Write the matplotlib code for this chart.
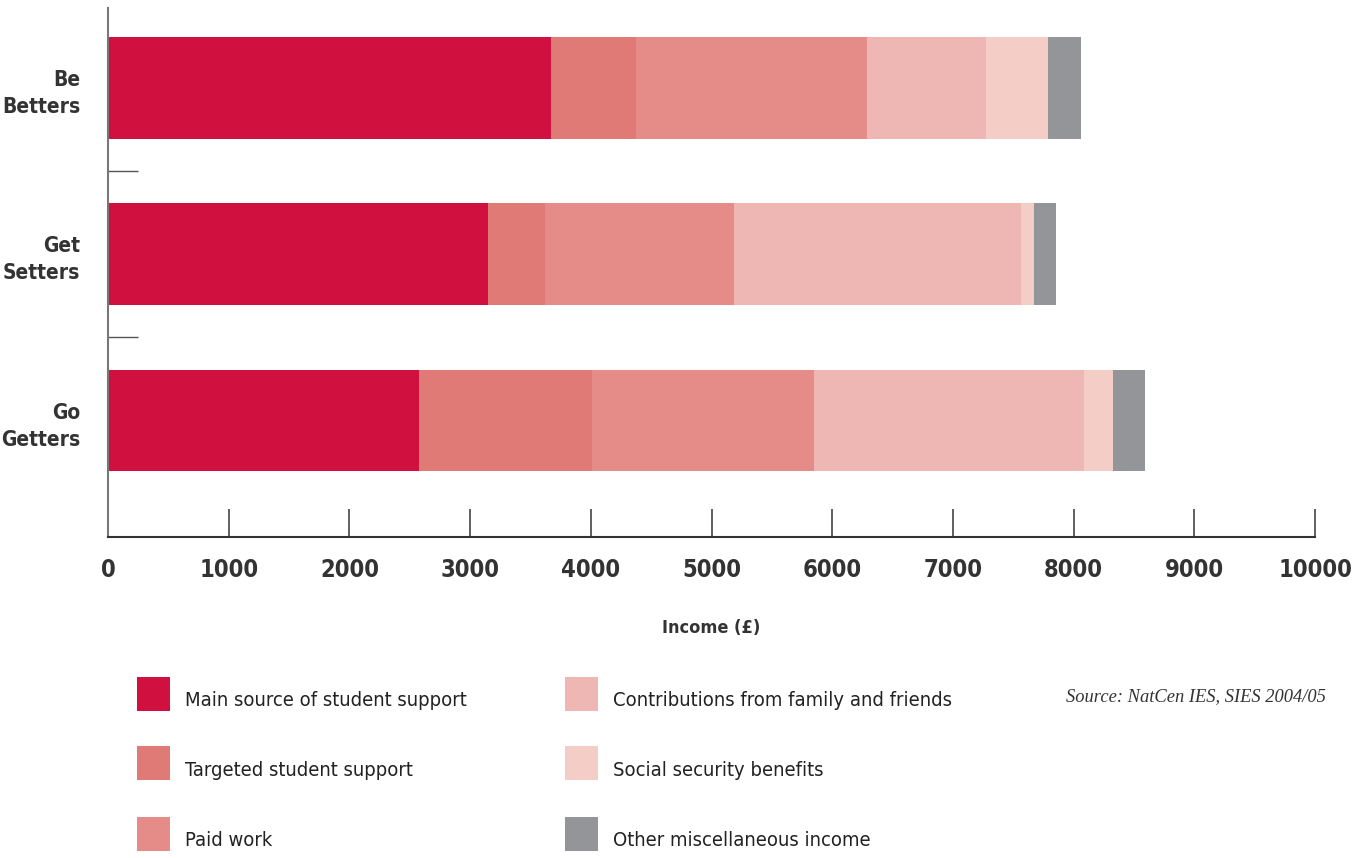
import matplotlib
matplotlib.use("Agg")
import matplotlib.pyplot as plt
from matplotlib import font_manager
from matplotlib.patches import Rectangle
import numpy as np

# data (income in GBP), bottom to top
groups = ["Go\nGetters", "Get\nSetters", "Be\nBetters"]
sources = ["Main source of student support", "Targeted student support", "Paid work",
           "Contributions from family and friends", "Social security benefits",
           "Other miscellaneous income"]
main_support = [2575, 3145, 3670]
targeted = [1435, 475, 705]
paid_work = [1840, 1570, 1915]
family = [2235, 2370, 985]
social = [240, 115, 515]
other = [265, 175, 270]
colors = ["#D0113F", "#E07A76", "#E58C88", "#EEB7B3", "#F4CDC6", "#949599"]
xticks = [0, 1000, 2000, 3000, 4000, 5000, 6000, 7000, 8000, 9000, 10000]

# look for a narrow face, the original uses a condensed sans
narrow = None
for f in font_manager.fontManager.ttflist:
    n = (f.name + ' ' + f.fname).lower()
    if 'condensed' in n or 'narrow' in n:
        if f.name.startswith('DejaVu Sans') or f.name.startswith('Liberation Sans'):
            narrow = f.name
            break
if narrow:
    plt.rcParams['font.family'] = [narrow, 'DejaVu Sans']
    plt.rcParams['font.stretch'] = 'condensed'
    scale = 1.0
else:
    plt.rcParams['font.family'] = ['Roboto', 'DejaVu Sans']
    scale = 0.9
txt = '#333333'

fig = plt.figure(figsize=(13.71, 8.58), dpi=100)
ax = fig.add_axes([0.0788, 0.3741, 0.8804, 0.6166])

series = [main_support, targeted, paid_work, family, social, other]
y = np.arange(len(groups))
left = np.zeros(len(groups))
for vals, c, lab in zip(series, colors, sources):
    ax.barh(y, vals, left=left, height=0.61, color=c, label=lab, linewidth=0)
    left += np.array(vals)

ax.set_xlim(0, 10000)
ax.set_ylim(-0.70, 2.48)
ax.set_xticks(xticks)
ax.set_xticklabels([str(t) for t in xticks], fontsize=17 * scale, fontweight='bold', color=txt)
ax.set_yticks(y)
ax.set_yticklabels(groups, fontsize=15 * scale, fontweight='bold', color=txt, linespacing=1.45)
ax.set_yticks([0.5, 1.5], minor=True)
ax.tick_params(axis='x', direction='in', length=20, width=1.2, color='#444444', pad=15)
ax.tick_params(axis='y', which='major', length=0, pad=20)
ax.tick_params(axis='y', which='minor', direction='in', length=21.5, width=1.0, color='#555555')
for s in ['top', 'right']:
    ax.spines[s].set_visible(False)
ax.spines['left'].set_color('#777777')
ax.spines['left'].set_linewidth(1.5)
ax.spines['bottom'].set_color('#333333')
ax.spines['bottom'].set_linewidth(1.5)
ax.set_xlabel("Income (£)", fontsize=13 * scale, fontweight='bold', color=txt, labelpad=27)

# legend, two columns of three
W, H = 1371, 858
col_x = [137, 565]
row_y = [694, 763, 834]
for i, (lab, c) in enumerate(zip(sources, colors)):
    cx = col_x[i // 3]
    cy = row_y[i % 3]
    fig.add_artist(Rectangle((cx / W, 1 - (cy + 17) / H), 33 / W, 34 / H,
                             transform=fig.transFigure, color=c, linewidth=0))
    fig.text((cx + 48) / W, 1 - (cy + 7) / H, lab, fontsize=14.5 * scale,
             color='#222222', va='center', ha='left')

fig.text(1326 / W, 1 - 697 / H, "Source: NatCen IES, SIES 2004/05", fontsize=13.3,
         style='italic', family=['Liberation Serif', 'DejaVu Serif'], color=txt,
         ha='right', va='center')

fig.savefig("out.png", dpi=100)
